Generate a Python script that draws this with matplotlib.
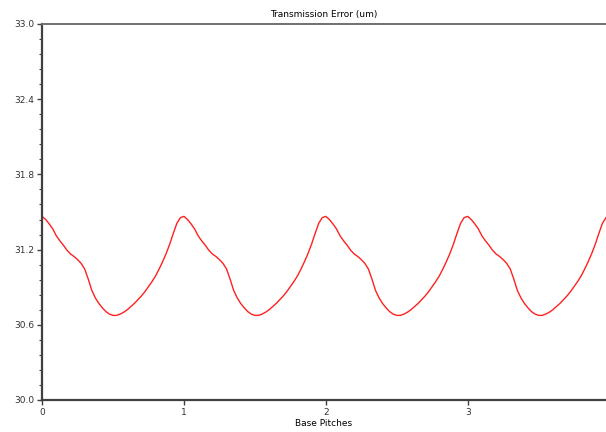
import numpy as np
import matplotlib
matplotlib.use("Agg")
import matplotlib.pyplot as plt
from matplotlib.ticker import MultipleLocator, FormatStrFormatter

# transmission error sampled every 0.025 base pitch
step = 0.025
te_um = [
    # pitch 0 -> 1
    31.465, 31.44, 31.405, 31.365, 31.31, 31.27, 31.235, 31.195, 31.165, 31.145,
    31.12, 31.09, 31.045, 30.965, 30.875, 30.815, 30.77, 30.735, 30.705, 30.685,
    30.675, 30.675, 30.685, 30.70, 30.72, 30.745, 30.77, 30.80, 30.83, 30.865,
    30.905, 30.945, 30.99, 31.045, 31.105, 31.17, 31.245, 31.33, 31.41, 31.455,
    # pitch 1 -> 2
    31.465, 31.44, 31.405, 31.365, 31.31, 31.27, 31.235, 31.195, 31.165, 31.145,
    31.12, 31.09, 31.045, 30.965, 30.875, 30.815, 30.77, 30.735, 30.705, 30.685,
    30.675, 30.675, 30.685, 30.70, 30.72, 30.745, 30.77, 30.80, 30.83, 30.865,
    30.905, 30.945, 30.99, 31.045, 31.105, 31.17, 31.245, 31.33, 31.41, 31.455,
    # pitch 2 -> 3
    31.465, 31.44, 31.405, 31.365, 31.31, 31.27, 31.235, 31.195, 31.165, 31.145,
    31.12, 31.09, 31.045, 30.965, 30.875, 30.815, 30.77, 30.735, 30.705, 30.685,
    30.675, 30.675, 30.685, 30.70, 30.72, 30.745, 30.77, 30.80, 30.83, 30.865,
    30.905, 30.945, 30.99, 31.045, 31.105, 31.17, 31.245, 31.33, 31.41, 31.455,
    # pitch 3 -> 4
    31.465, 31.44, 31.405, 31.365, 31.31, 31.27, 31.235, 31.195, 31.165, 31.145,
    31.12, 31.09, 31.045, 30.965, 30.875, 30.815, 30.77, 30.735, 30.705, 30.685,
    30.675, 30.675, 30.685, 30.70, 30.72, 30.745, 30.77, 30.80, 30.83, 30.865,
    30.905, 30.945, 30.99, 31.045, 31.105, 31.17, 31.245, 31.33, 31.41, 31.455,
]
pitch = np.arange(len(te_um)) * step

x_ticks = [0, 1, 2, 3]

fig = plt.figure(figsize=(6.06, 4.32), dpi=100)
ax = fig.add_axes([0.0695, 0.0741, 0.9305, 0.8704])

ax.plot(pitch, te_um, color="#ff2020", lw=1.0)

ax.set_xlim(0, 3.975)
ax.set_ylim(30.0, 33.0)
ax.set_xticks(x_ticks)
ax.yaxis.set_major_locator(MultipleLocator(0.6))
ax.yaxis.set_minor_locator(MultipleLocator(0.12))
ax.yaxis.set_major_formatter(FormatStrFormatter("%.1f"))

for side in ["left", "bottom"]:
    ax.spines[side].set_color("#404040")
    ax.spines[side].set_linewidth(1.6)
ax.spines["top"].set_color("#707070")
ax.spines["top"].set_linewidth(1.4)
ax.spines["right"].set_visible(False)

ax.tick_params(axis="both", which="major", length=3.5, width=1,
               color="#404040", labelsize=6.5, labelcolor="#333333", pad=2)
ax.tick_params(axis="y", which="minor", length=2, width=0.8, color="#404040")

ax.set_title("Transmission Error (um)", fontsize=6.5, pad=5)
ax.set_xlabel("Base Pitches", fontsize=6.5, labelpad=2)

fig.savefig("out.png", dpi=100)
